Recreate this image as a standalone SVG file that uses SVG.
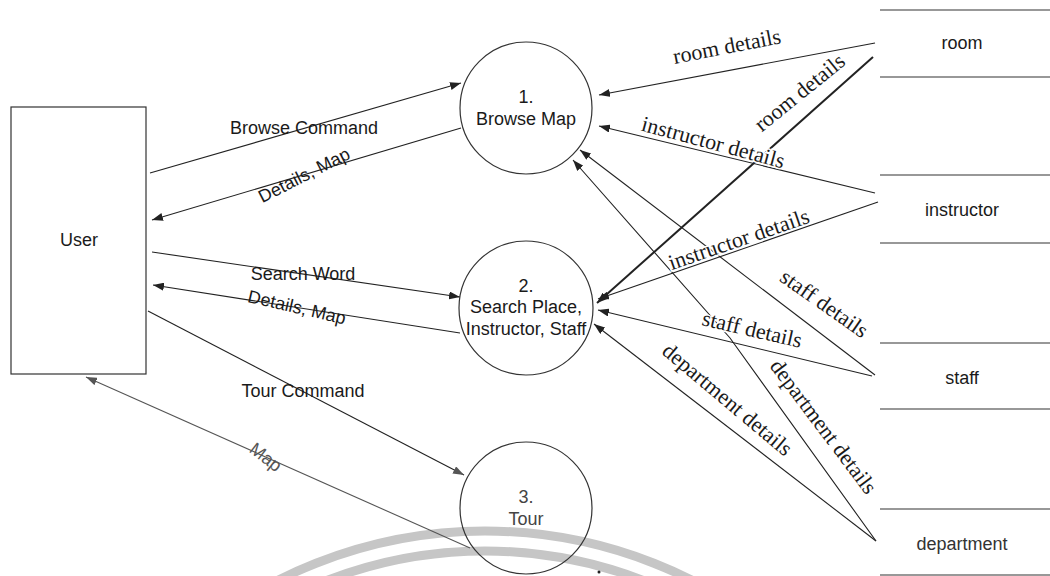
<svg xmlns="http://www.w3.org/2000/svg" width="1050" height="576" viewBox="0 0 1050 576">
<style>
.sans{font-family:"Liberation Sans",Arial,sans-serif;font-size:18px;fill:#1a1a1a}
.mid{text-anchor:middle}
.ser{font-family:"Liberation Serif","Times New Roman",serif;font-size:22px;fill:#1a1a1a;text-anchor:middle;stroke:#fff;stroke-width:3;paint-order:stroke}
.ln{fill:none;stroke:#222;stroke-width:1.1}
.node{fill:none;stroke:#333;stroke-width:1.2}
.wm{fill:none;stroke:#c6c6c6;stroke-width:9}
</style>
<defs>
<marker id="ah" viewBox="0 0 11 8" refX="11" refY="4" markerWidth="11" markerHeight="8" markerUnits="userSpaceOnUse" orient="auto"><path d="M0,0 L11,4 L0,8 z" fill="#222"/></marker>
<marker id="ahg" viewBox="0 0 11 8" refX="11" refY="4" markerWidth="11" markerHeight="8" markerUnits="userSpaceOnUse" orient="auto"><path d="M0,0 L11,4 L0,8 z" fill="#555"/></marker>
</defs>
<rect width="1050" height="576" fill="#fff"/>
<g id="watermark">
<circle class="wm" cx="485" cy="990" r="459"/>
<circle class="wm" cx="485" cy="990" r="439"/>
<circle cx="599" cy="572" r="1.5" fill="#222"/>
</g>
<g id="connectors">
<path class="ln" d="M150,173 L461,83" marker-end="url(#ah)"/>
<path class="ln" d="M461,128 L152,220" marker-end="url(#ah)"/>
<path class="ln" d="M152,252 L460,297" marker-end="url(#ah)"/>
<path class="ln" d="M460,333 L153,285" marker-end="url(#ah)"/>
<path class="ln" d="M148,311 L464,475" stroke="#333" marker-end="url(#ahg)"/>
<path class="ln" d="M470,548 L86,377" style="stroke:#555" marker-end="url(#ahg)"/>
<path class="ln" d="M875,43 L599,95" marker-end="url(#ah)"/>
<path class="ln" d="M873,57 L597,303" style="stroke-width:2" marker-end="url(#ah)"/>
<path class="ln" d="M875,193 L599,126" marker-end="url(#ah)"/>
<path class="ln" d="M878,202 L598,299" marker-end="url(#ah)"/>
<path class="ln" d="M875,375 L580,150" marker-end="url(#ah)"/>
<path class="ln" d="M872,376 L598,310" marker-end="url(#ah)"/>
<path class="ln" d="M876,541 L594,324" marker-end="url(#ah)"/>
<path class="ln" d="M876,541 L730,338 L573,160" marker-end="url(#ah)"/>
<text class="sans mid" x="304" y="134">Browse Command</text>
<text class="sans mid" transform="translate(304,175) rotate(-27)" dy="0.35em">Details, Map</text>
<text class="sans mid" x="303" y="280">Search Word</text>
<text class="sans mid" transform="translate(297,307) rotate(13)" dy="0.35em">Details, Map</text>
<text class="sans mid" x="303" y="397">Tour Command</text>
<text class="sans mid" transform="translate(266,457) rotate(38)" dy="0.35em" style="fill:#555">Map</text>
<text class="ser" transform="translate(727,47) rotate(-11)" dy="0.3em">room details</text>
<text class="ser" transform="translate(800,93) rotate(-39)" dy="0.3em">room details</text>
<text class="ser" transform="translate(713,143) rotate(15)" dy="0.3em">instructor details</text>
<text class="ser" transform="translate(739,240) rotate(-19)" dy="0.3em">instructor details</text>
<text class="ser" transform="translate(824,304) rotate(35)" dy="0.3em">staff details</text>
<text class="ser" transform="translate(752,330) rotate(13)" dy="0.3em">staff details</text>
<text class="ser" transform="translate(727,400) rotate(40)" dy="0.3em">department details</text>
<text class="ser" transform="translate(823,427) rotate(53)" dy="0.3em">department details</text>
</g>
<g id="user">
<rect class="node" x="11" y="107" width="135" height="267"/>
<text class="sans mid" x="79" y="246">User</text>
</g>
<g id="p1">
<circle class="node" cx="526" cy="108" r="66"/>
<text class="sans mid" x="526" y="103">1.</text>
<text class="sans mid" x="526" y="125">Browse Map</text>
</g>
<g id="p2">
<circle class="node" cx="526" cy="308" r="67"/>
<text class="sans mid" x="526" y="292">2.</text>
<text class="sans mid" x="526" y="313">Search Place,</text>
<text class="sans mid" x="526" y="335">Instructor, Staff</text>
</g>
<g id="p3">
<circle class="node" cx="526" cy="508" r="66"/>
<text class="sans mid" x="526" y="503" style="fill:#444">3.</text>
<text class="sans mid" x="526" y="525" style="fill:#444">Tour</text>
</g>
<g id="room">
<path class="node" d="M880,10 H1050 M880,77 H1050"/>
<text class="sans mid" x="962" y="49">room</text>
</g>
<g id="instructor">
<path class="node" d="M880,175 H1050 M880,243 H1050"/>
<text class="sans mid" x="962" y="216">instructor</text>
</g>
<g id="staff">
<path class="node" d="M880,343 H1050 M880,409 H1050"/>
<text class="sans mid" x="962" y="384">staff</text>
</g>
<g id="department">
<path class="node" d="M880,509 H1050 M880,575 H1050"/>
<text class="sans mid" x="962" y="550" style="fill:#333">department</text>
</g>
</svg>
